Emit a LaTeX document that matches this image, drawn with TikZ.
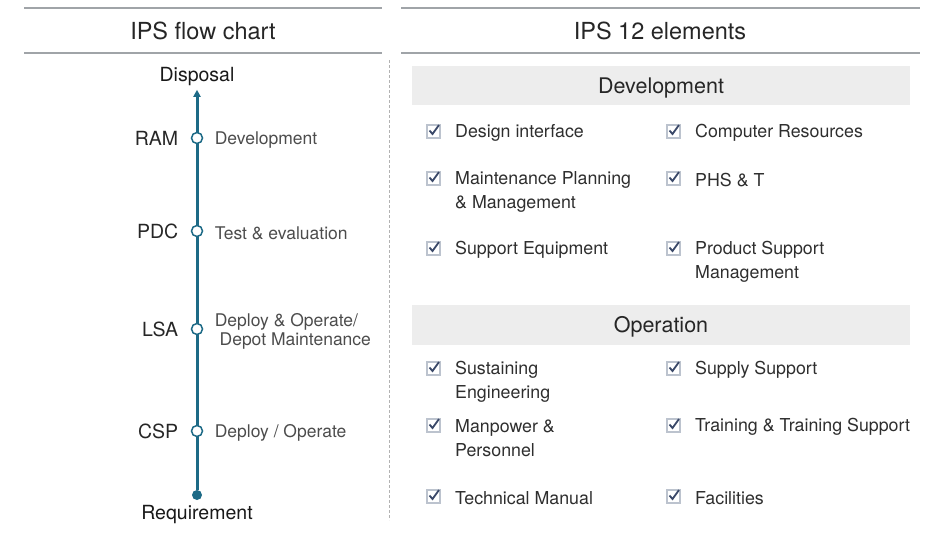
\documentclass[tikz,border=0pt]{standalone}
\usepackage{fontspec}
\setmainfont{TeX Gyre Heros}
\usepackage{tikz}
\usetikzlibrary{arrows.meta, positioning}
\usepackage{xcolor}
\definecolor{rulegray}{HTML}{A0A4A8}
\definecolor{bandgray}{HTML}{EDEDED}
\definecolor{tealline}{HTML}{1D6A86}
\definecolor{boxgray}{HTML}{BCC3CE}
\definecolor{tickblue}{HTML}{3A4868}

\begin{document}
\begin{tikzpicture}[x=1pt, y=-1pt,
        rule/.style={draw=rulegray, line width=1.5pt},
        sep/.style={draw=black!30, line width=0.8pt, dash pattern=on 3pt off 2pt},
        title/.style={font=\fontsize{23.5}{26}\selectfont, text=black!85,
                      text height=17pt, text depth=0pt},
        band/.style={fill=bandgray, minimum width=498pt, minimum height=39pt,
                     font=\fontsize{21.5}{24}\selectfont, text=black!85,
                     text height=15.5pt, text depth=0pt},
        stage/.style={circle, draw=tealline, fill=white, line width=1.5pt,
                      minimum size=11pt, inner sep=0pt},
        dot/.style={circle, fill=tealline, minimum size=10pt, inner sep=0pt},
        tool/.style={font=\fontsize{19.5}{20}\selectfont, text=black!85,
                     text height=14pt, text depth=0pt},
        phase/.style={align=left, font=\fontsize{17.5}{19}\selectfont, text=black!70},
        endtext/.style={font=\fontsize{19.5}{22}\selectfont, text=black!90},
        chk/.style={draw=boxgray, fill=white, line width=2pt, minimum size=13pt, inner sep=0pt},
        tick/.style={draw=tickblue, line width=1.8pt},
        item/.style={anchor=west, align=left, inner sep=0pt,
                     font=\fontsize{17.8}{24}\selectfont, text=black!82},
        arr/.style={-{Triangle[length=7pt, width=7pt]}, line width=3pt, draw=tealline}
    ]
        \useasboundingbox (0,0) rectangle (930,541);

        % headers
        \draw[rule] (24,8) -- (382,8);
        \draw[rule] (24,53) -- (382,53);
        \draw[rule] (401,8) -- (920,8);
        \draw[rule] (401,53) -- (920,53);
        \node[title] (ltitle) at (203,31) {IPS flow chart};
        \node[title] (rtitle) at (660,31) {IPS 12 elements};
        \draw[sep] (389,60) -- (389,520);

        % flow chart
        \node[endtext] (dispo) at (197,77) {Disposal};
        \node[endtext] (req) at (197,515) {Requirement};
        \node[dot] (base) at (197,495) {};
        \draw[arr] (base) -- (dispo);
        \node[stage] (ram) at (197,138) {};
        \node[stage] (pdc) at (197,231) {};
        \node[stage] (lsa) at (197,329) {};
        \node[stage] (csp) at (197,431) {};
        \node[tool, left=9pt of ram] (ramlbl) {RAM};
        \node[tool, left=9pt of pdc] (pdclbl) {PDC};
        \node[tool, left=9pt of lsa] (lsalbl) {LSA};
        \node[tool, left=9pt of csp] (csplbl) {CSP};
        \node[phase, right=8pt of ram, yshift=-2pt] (ramtxt) {Development};
        \node[phase, right=8pt of pdc, yshift=-2pt] (pdctxt) {Test \& evaluation};
        \node[phase, right=8pt of lsa, yshift=-2pt] (lsatxt) {Deploy \& Operate/\\\ Depot Maintenance};
        \node[phase, right=8pt of csp, yshift=-2pt] (csptxt) {Deploy / Operate};

        % 12 elements
        \node[band] (dev) at (661,85.5) {Development};
        \node[band, minimum height=40pt] (ops) at (661,325) {Operation};
        \foreach \bx/\ty/\cy/\txt [count=\i] in {
            433/131/131/{Design interface},
            673/131/131/{Computer Resources},
            433/190/178/{Maintenance Planning\\\& Management},
            673/178/178/{PHS \& T},
            433/248/248/{Support Equipment},
            673/260/248/{Product Support\\Management},
            433/380/368/{Sustaining\\Engineering},
            673/368/368/{Supply Support},
            433/436/425/{Manpower \&\\Personnel},
            673/425/425/{Training \& Training Support},
            433/496/496/{Technical Manual},
            673/496/496/{Facilities}} {
            \node[chk] (box\i) at (\bx,\cy) {};
            \draw[tick] (box\i.center) ++(-3.5,-0.5) -- ++(3,3.5) -- ++(6.5,-9);
            \node[item] (elem\i) at (\bx+22,\ty+2) {\txt};
        }
    \end{tikzpicture}
\end{document}
